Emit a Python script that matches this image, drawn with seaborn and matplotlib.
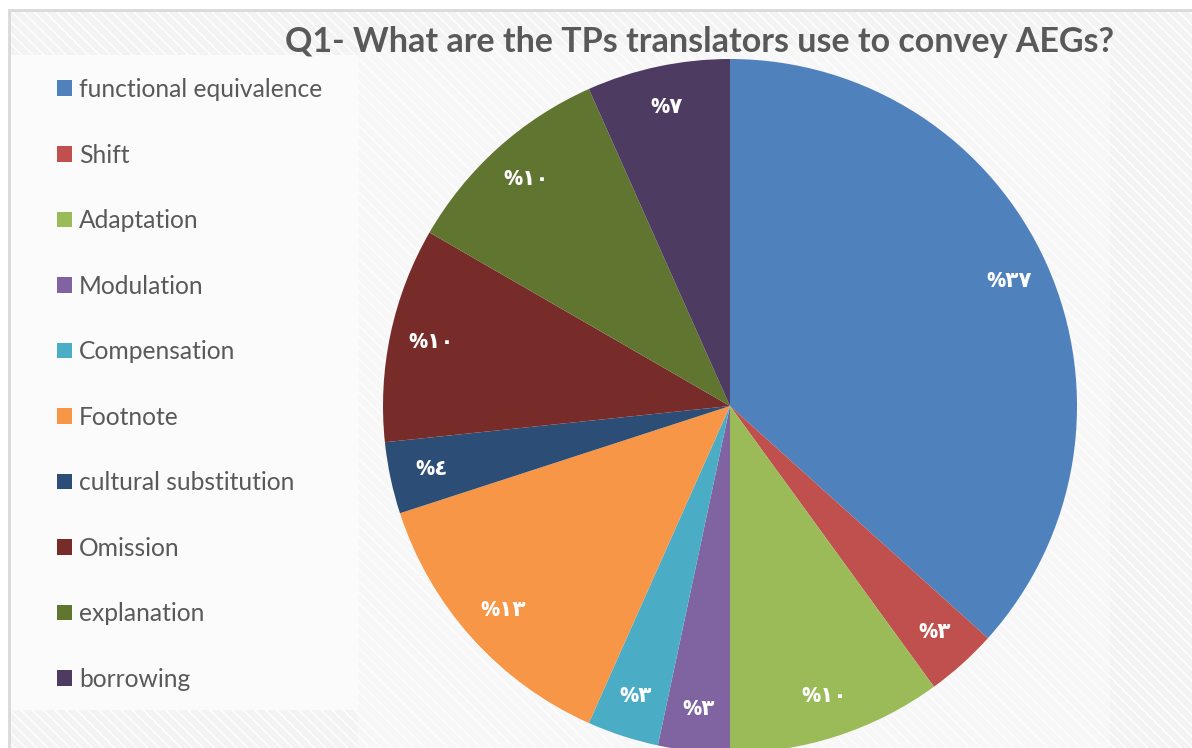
import matplotlib
matplotlib.use("Agg")
import matplotlib.pyplot as plt
from matplotlib.patches import Rectangle, Patch
import seaborn as sns

sns.set_theme(style="white")
plt.rcParams['font.family'] = ['Lato', 'DejaVu Sans']

categories = ["functional equivalence", "Shift", "Adaptation", "Modulation",
              "Compensation", "Footnote", "cultural substitution", "Omission",
              "explanation", "borrowing"]
# slice sizes (answer counts)
values = [11, 1, 3, 1, 1, 4, 1, 3, 3, 2]
# percentage labels as printed on the slices
pct_labels = [37, 3, 10, 3, 3, 13, 4, 10, 10, 7]
colors = ["#4F81BD", "#C0504D", "#9BBB59", "#8064A2", "#4BACC6",
          "#F79646", "#2C4D75", "#772C2A", "#5F7530", "#4D3B62"]
title = "Q1- What are the TPs translators use to convey AEGs?"

AR_DIGITS = str.maketrans("0123456789", "٠١٢٣٤٥٦٧٨٩")
label_iter = iter(pct_labels)


def arabic_pct(p):
    return "%" + str(next(label_iter)).translate(AR_DIGITS)


W, H = 1192, 748
fig = plt.figure(figsize=(W / 100, H / 100), dpi=100)
fig.patch.set_facecolor("white")

# background frame with faint diagonal stripes
bg = Rectangle((9 / W, 0), 1 - 9 / W, 1 - 10 / H, transform=fig.transFigure,
               facecolor="#f3f3f3", edgecolor="white", hatch="\\\\\\", lw=0, zorder=0)
fig.patches.append(bg)
border = Rectangle((9 / W, -0.01), 1.0, 1 - 10 / H + 0.01, transform=fig.transFigure,
                   facecolor="none", edgecolor="#d9d9d9", lw=2, zorder=0.2)
fig.patches.append(border)
# lighter legend and plot areas
fig.patches.append(Rectangle((10 / W, 1 - 710 / H), 348 / W, 655 / H,
                             transform=fig.transFigure, facecolor="#fbfbfb",
                             edgecolor="none", zorder=0.1))
fig.patches.append(Rectangle((358 / W, 0), 752 / W, 1 - 45 / H,
                             transform=fig.transFigure, facecolor="#fbfbfb",
                             edgecolor="none", alpha=0.6, zorder=0.1))

# pie axes: centre (730, 406) px, radius 347 px
cx, cy, r = 730, 406, 347
ax = fig.add_axes([(cx - r) / W, (H - cy - r) / H, 2 * r / W, 2 * r / H])
ax.set_zorder(3)
ax.set_facecolor("none")
wedges, texts, autotexts = ax.pie(
    values, colors=colors, startangle=90, counterclock=False,
    autopct=arabic_pct, pctdistance=0.88, radius=1,
    wedgeprops=dict(linewidth=0),
    textprops=dict(color="white", fontsize=15.5, fontweight="bold",
                   family=['Open Sans', 'DejaVu Sans']))
ax.set_xlim(-1, 1)
ax.set_ylim(-1, 1)
ax.set_aspect("equal")
ax.axis("off")
for w in wedges:
    w.set_clip_on(False)

fig.text(700 / W, 1 - 42 / H, title, ha="center", va="center",
         fontsize=24.5, fontweight="bold", color="#595959", zorder=5)

handles = [Patch(facecolor=c, edgecolor="none") for c in colors]
leg = fig.legend(handles, categories, loc="upper left",
                 bbox_to_anchor=(57 / W, 1 - 78 / H), frameon=False,
                 fontsize=17.7, labelspacing=1.73, handlelength=0.61,
                 handleheight=0.61, handletextpad=0.28, borderpad=0,
                 borderaxespad=0)
leg.set_zorder(5)
for t in leg.get_texts():
    t.set_color("#595959")

fig.savefig("out.png", dpi=100)
